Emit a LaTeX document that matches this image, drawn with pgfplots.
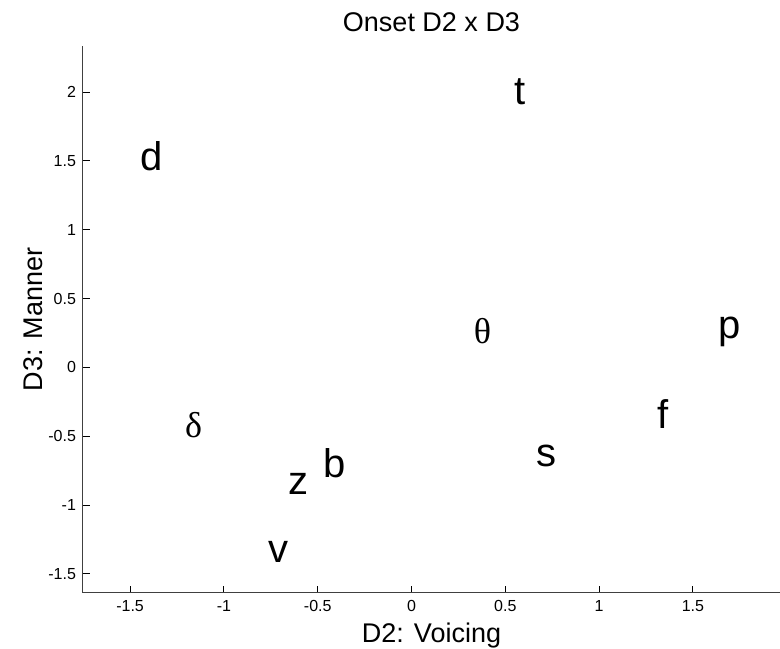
\documentclass[border=0pt]{standalone}
\usepackage{fontspec}
\setmainfont{Liberation Sans}
\newfontfamily\greekfont{Liberation Serif}
\usepackage{pgfplots}
\pgfplotsset{compat=1.18}

\begin{document}
\begin{tikzpicture}
\begin{axis}[
    name=ax,
    scale only axis,
    width=348.5pt, height=273.5pt,
    xmin=-1.751, xmax=1.964,
    ymin=-1.638, ymax=2.335,
    axis x line*=bottom, axis y line*=left,
    axis line style={black!75, line width=0.5pt, -},
    tick align=inside,
    major tick length=3.5pt,
    tick style={black, line width=0.5pt},
    xtick={-1.5,-1,-0.5,0,0.5,1,1.5},
    xticklabels={-1.5,-1,-0.5,0,0.5,1,1.5},
    ytick={-1.5,-1,-0.5,0,0.5,1,1.5,2},
    yticklabels={-1.5,-1,-0.5,0,0.5,1,1.5,2},
    ticklabel style={font=\fontsize{8}{9}\selectfont},
    every axis title shift=0pt,
    title={Onset D2 x D3},
    title style={at={(axis description cs:0.5,1.0256)}, anchor=base, font=\fontsize{13.5}{15}\selectfont},
    xlabel={D2: Voicing},
    xlabel style={at={(axis description cs:0.5,-0.0896)}, anchor=base, font=\fontsize{13.5}{15}\selectfont},
    ylabel={D3: Manner},
    ylabel style={at={(axis description cs:-0.0588,0.5)}, anchor=base, font=\fontsize{13.5}{15}\selectfont},
    clip=false,
]
% Latin onset labels
\addplot[only marks, mark=none, point meta=explicit symbolic,
    nodes near coords, nodes near coords align=center,
    every node near coord/.style={anchor=center, inner sep=0pt, font=\fontsize{20}{22}\selectfont}]
coordinates {
    (-1.385, 1.531) [d]
    (0.580, 2.002) [t]
    (1.698, 0.255) [p]
    (1.338, -0.338) [f]
    (0.722, -0.640) [s]
    (-0.412, -0.693) [b]
    (-0.601, -0.845) [z]
    (-0.708, -1.340) [v]
};
% Greek onset labels
\addplot[only marks, mark=none, point meta=explicit symbolic,
    nodes near coords, nodes near coords align=center,
    every node near coord/.style={anchor=center, inner sep=0pt, font=\greekfont\fontsize{18}{20}\selectfont}]
coordinates {
    (0.378, 0.267) [θ]
    (-1.161, -0.418) [δ]
};
\end{axis}
\pgfresetboundingbox
\path[use as bounding box] ([shift={(-41.5pt,-28pt)}]ax.south west) rectangle ([shift={(0pt,23pt)}]ax.north east);
\end{tikzpicture}
\end{document}
